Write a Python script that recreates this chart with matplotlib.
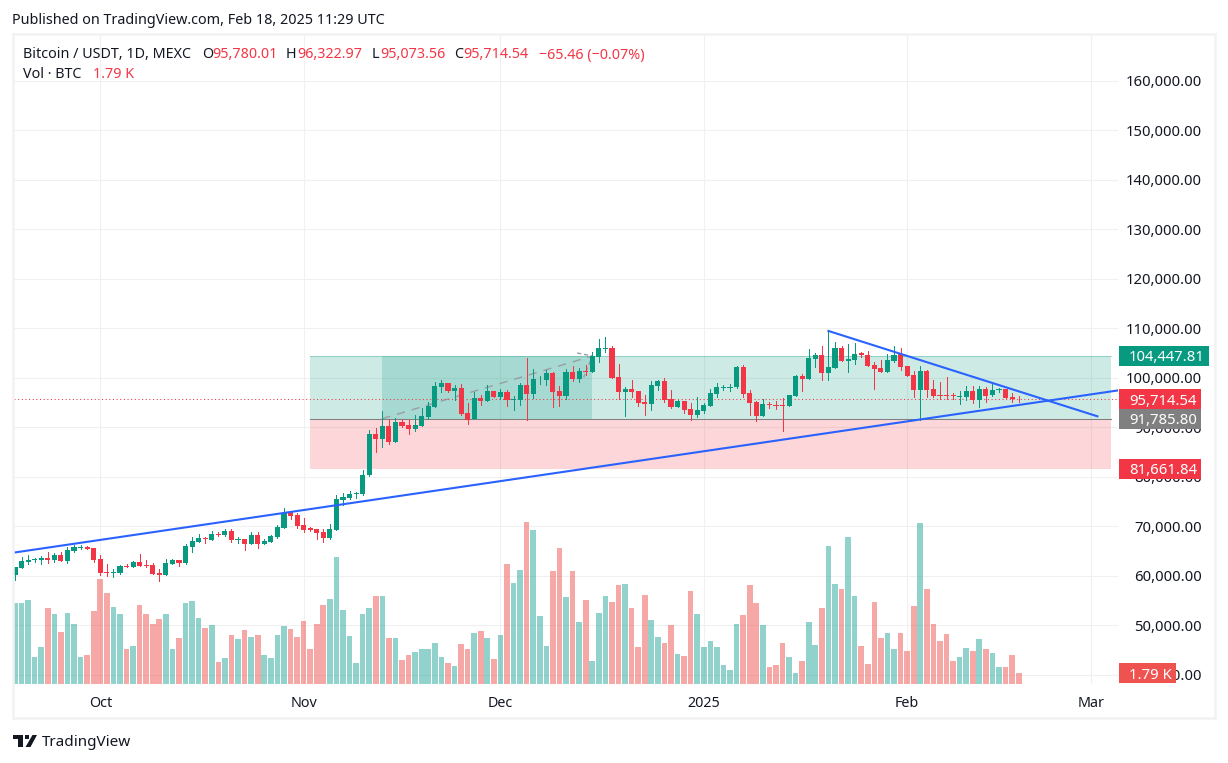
import matplotlib
matplotlib.use("Agg")
import matplotlib.pyplot as plt
from matplotlib.patches import Polygon, Rectangle
from matplotlib.transforms import blended_transform_factory

W, H = 1228, 763
GREEN = "#089981"
RED = "#F23645"
VOL_GREEN = "#26a69a"
VOL_RED = "#ef5350"
BLUE = "#2962ff"
GRID = "#f0f0f0"
TEXT = "#131722"
plt.rcParams["font.family"] = ["Noto Sans", "DejaVu Sans"]

# daily candles from 18 Sep 2024 to 18 Feb 2025, prices in thousands of USDT
opens = [60.2, 61.6, 62.9, 63.2, 63.2, 63.6, 63.2, 64.2, 63.0, 65.1,
         65.7, 65.9, 65.6, 63.4, 60.8, 60.6, 60.6, 62.1, 61.8, 62.8,
         62.2, 62.2, 60.6, 60.2, 62.4, 63.2, 62.6, 65.9, 66.9, 67.7,
         67.3, 68.5, 68.3, 69.1, 67.3, 67.5, 66.5, 68.3, 66.5, 66.9,
         67.9, 69.7, 72.9, 72.3, 70.3, 69.6, 69.5, 68.9, 67.7, 69.3,
         75.4, 75.8, 76.6, 76.6, 80.4, 88.7, 87.7, 90.3, 87.1, 91.1,
         90.5, 89.7, 90.4, 92.1, 94.2, 98.2, 99.0, 97.4, 98.0, 92.9,
         91.7, 96.0, 95.4, 97.4, 96.2, 97.2, 95.6, 95.6, 98.6, 96.8,
         99.7, 99.6, 101.0, 97.4, 96.4, 101.2, 99.8, 101.4, 101.2, 104.3,
         105.9, 106.1, 100.2, 97.2, 97.8, 97.4, 95.1, 94.7, 98.4, 99.4,
         95.8, 94.1, 95.4, 93.7, 92.5, 93.4, 94.4, 96.8, 98.0, 98.0,
         98.2, 102.2, 97.0, 95.1, 92.3, 94.7, 94.5, 94.5, 94.3, 96.4,
         100.4, 99.8, 103.9, 104.6, 101.0, 102.0, 106.1, 103.5, 103.6, 105.0,
         104.6, 102.6, 102.0, 101.2, 103.4, 104.8, 102.4, 100.6, 97.6, 101.4,
         97.8, 96.6, 96.6, 96.6, 96.2, 96.2, 97.4, 95.6, 97.8, 96.6,
         97.5, 97.7, 96.2, 95.78]
highs = [61.8, 63.8, 64.2, 63.7, 64.0, 64.8, 64.6, 64.8, 65.9, 66.3,
         66.3, 66.1, 65.6, 64.2, 62.4, 61.4, 62.2, 62.4, 63.0, 64.4,
         63.2, 62.6, 61.4, 63.4, 63.4, 63.2, 66.5, 67.9, 68.5, 67.9,
         69.1, 68.9, 69.5, 69.5, 67.9, 67.5, 68.9, 68.9, 67.5, 68.3,
         70.3, 73.7, 72.9, 72.7, 71.7, 69.9, 69.5, 69.5, 70.5, 76.4,
         76.8, 77.2, 77.0, 81.4, 89.5, 89.9, 93.3, 91.7, 91.9, 91.7,
         91.5, 92.5, 93.9, 95.2, 99.2, 99.6, 99.0, 98.6, 98.8, 94.9,
         97.2, 96.6, 98.6, 97.4, 97.8, 97.6, 96.4, 99.0, 104.0, 101.8,
         100.4, 101.6, 101.2, 98.4, 101.8, 102.4, 102.0, 102.6, 105.3, 107.9,
         108.3, 106.5, 102.8, 98.2, 99.6, 97.4, 96.6, 99.4, 99.6, 100.0,
         97.6, 95.6, 95.4, 94.9, 96.2, 94.9, 97.8, 99.0, 98.6, 98.8,
         102.4, 102.6, 97.6, 95.4, 95.8, 95.2, 95.4, 96.0, 96.6, 100.6,
         100.8, 105.9, 105.1, 106.5, 109.5, 107.3, 106.5, 106.9, 107.1, 105.2,
         105.5, 103.2, 103.6, 104.8, 106.5, 106.1, 102.4, 101.4, 102.4, 101.6,
         99.6, 99.2, 100.2, 97.0, 97.4, 98.4, 98.4, 98.4, 98.2, 99.0,
         98.0, 97.8, 97.0, 96.32]
lows = [59.2, 61.6, 62.4, 62.8, 62.4, 62.6, 62.8, 63.0, 62.6, 64.8,
        65.5, 65.4, 62.8, 60.2, 60.0, 59.8, 60.4, 61.8, 61.8, 62.0,
        61.8, 60.4, 59.0, 60.2, 62.4, 62.0, 62.4, 64.8, 66.9, 66.7,
        67.3, 68.1, 68.1, 66.9, 66.7, 65.3, 66.5, 65.6, 66.5, 66.9,
        67.7, 69.7, 71.5, 69.7, 68.9, 69.1, 67.5, 66.9, 67.5, 69.3,
        74.3, 75.5, 75.8, 76.4, 80.2, 85.0, 86.1, 86.7, 87.1, 90.1,
        88.7, 89.3, 90.3, 91.7, 94.1, 97.2, 97.2, 95.6, 92.5, 90.7,
        91.7, 94.5, 95.4, 96.2, 95.8, 94.3, 93.5, 94.5, 91.6, 96.0,
        98.8, 98.6, 94.1, 94.3, 95.8, 99.4, 99.2, 100.6, 101.2, 103.2,
        105.3, 100.0, 95.8, 92.3, 96.2, 94.3, 92.5, 93.5, 97.6, 95.1,
        93.9, 94.1, 92.9, 91.5, 92.1, 92.9, 94.3, 96.2, 97.6, 97.4,
        98.0, 96.2, 92.5, 91.3, 92.3, 93.9, 93.7, 89.3, 94.3, 96.4,
        97.4, 99.8, 102.2, 99.6, 99.6, 102.0, 103.4, 101.2, 102.8, 104.2,
        102.4, 97.8, 101.2, 101.2, 103.2, 101.6, 100.4, 96.2, 91.5, 96.2,
        96.2, 95.8, 95.8, 95.8, 94.7, 95.6, 94.9, 94.1, 95.1, 96.4,
        97.2, 96.0, 95.1, 95.07]
closes = [61.8, 63.0, 63.2, 63.4, 63.6, 63.2, 64.2, 63.0, 65.3, 65.9,
          65.9, 65.5, 63.2, 60.6, 60.6, 60.8, 62.0, 61.9, 62.8, 62.0,
          62.0, 60.4, 60.2, 62.6, 63.2, 62.6, 66.1, 67.1, 67.7, 67.5,
          68.5, 68.3, 69.1, 67.3, 67.5, 66.5, 68.3, 66.5, 67.1, 68.1,
          69.9, 72.7, 72.1, 70.1, 69.3, 69.3, 68.7, 67.7, 69.5, 75.5,
          76.0, 76.6, 76.8, 80.4, 88.7, 87.7, 90.3, 87.1, 91.1, 90.3,
          89.7, 90.5, 92.3, 94.3, 98.4, 99.0, 97.4, 98.0, 92.7, 91.6,
          96.0, 95.4, 97.4, 96.2, 97.2, 95.6, 95.7, 98.6, 96.8, 99.8,
          99.8, 101.0, 97.2, 96.4, 101.2, 99.8, 101.4, 101.2, 104.4, 106.1,
          106.1, 100.0, 97.2, 97.8, 97.2, 94.9, 94.7, 98.6, 99.4, 95.6,
          94.1, 95.4, 93.5, 92.5, 93.5, 94.5, 97.0, 98.2, 98.2, 98.2,
          102.2, 96.8, 94.9, 92.3, 94.7, 94.5, 94.4, 94.3, 96.6, 100.4,
          99.8, 104.0, 104.6, 101.0, 102.2, 106.1, 103.4, 103.8, 104.8, 104.7,
          102.4, 101.8, 101.2, 103.6, 104.6, 102.2, 100.4, 97.6, 101.4, 97.6,
          96.4, 96.4, 96.4, 96.4, 96.4, 97.4, 95.6, 97.8, 96.4, 97.6,
          97.7, 96.0, 95.8, 95.71]
# volume in thousands of BTC
volumes = [13.2, 13.2, 13.7, 4.5, 6.0, 12.4, 11.4, 8.5, 11.7, 9.9,
           4.5, 4.7, 11.9, 17.2, 14.9, 12.7, 11.4, 5.8, 6.2, 12.9,
           11.4, 9.8, 10.6, 11.4, 5.7, 7.5, 13.2, 13.6, 10.9, 9.1,
           9.6, 3.6, 4.2, 8.1, 7.3, 8.8, 7.7, 8.1, 4.7, 4.2,
           8.1, 9.5, 9.0, 7.7, 10.3, 5.7, 9.8, 12.9, 13.9, 20.9,
           12.1, 7.8, 3.4, 11.4, 12.4, 14.4, 14.4, 7.5, 7.5, 3.9,
           4.8, 5.2, 5.7, 5.7, 6.7, 4.4, 3.4, 3.0, 6.6, 5.7,
           8.4, 8.7, 7.5, 4.1, 8.0, 19.7, 16.6, 18.7, 26.6, 25.2,
           11.1, 6.2, 18.5, 22.3, 14.3, 18.5, 10.2, 13.8, 3.8, 11.6,
           14.4, 13.4, 16.2, 16.4, 12.5, 6.1, 14.6, 10.5, 7.7, 6.7,
           9.7, 4.9, 4.6, 15.2, 11.5, 6.1, 7.0, 6.1, 3.1, 2.3,
           9.8, 11.3, 16.2, 13.3, 9.7, 2.8, 3.1, 6.7, 4.4, 1.8,
           3.8, 10.2, 6.4, 12.5, 22.6, 16.4, 15.6, 24.1, 14.4, 6.2,
           3.3, 13.4, 7.5, 8.4, 5.7, 8.4, 5.4, 12.8, 26.4, 15.6,
           9.8, 7.0, 8.2, 3.8, 4.4, 5.9, 5.4, 7.4, 5.7, 5.1,
           2.8, 2.8, 4.8, 1.79]

month_pos = [13, 44, 74, 105, 136, 164]
month_labels = ["Oct", "Nov", "Dec", "2025", "Feb", "Mar"]
price_ticks = [40, 50, 60, 70, 80, 90, 100, 110, 120, 130, 140, 150, 160]

# long position tool: entry, target and stop in thousands
entry_price = 91.7858
target_price = 104.44781
stop_price = 81.66184
zone_start, zone_end = 45, 167
inner_start, inner_end = 56, 88
last_close = 95.71454

# trend lines as (bar, price) ends
rising_bars, rising_prices = [-0.3, 168.2], [64.7, 97.5]
falling_bars, falling_prices = [124, 165], [109.5, 92.26]


def fx(x):
    return x / W


def fy(y):
    return 1 - y / H


fig = plt.figure(figsize=(W / 100, H / 100), dpi=100, facecolor="white")

# chart pane in pixels: x 14..1118, y 34..684
rect = [fx(14), fy(684), (1118 - 14) / W, (684 - 34) / H]
ax = fig.add_axes(rect)
ax.set_xlim(-0.15, 168.14)
ax.set_ylim(38.18, 169.49)
ax.set_axisbelow(True)
for s in ax.spines.values():
    s.set_visible(False)
ax.grid(True, color=GRID, lw=0.75)
ax.set_xticks(month_pos)
ax.set_xticklabels(month_labels, fontsize=10.3, color=TEXT)
ax.get_xticklabels()[3].set_fontweight("bold")
ax.tick_params(axis="x", length=0, pad=8.5)
ax.yaxis.tick_right()
ax.set_yticks(price_ticks)
ax.set_yticklabels([f"{t * 1000:,.2f}" for t in price_ticks], fontsize=10.7, color=TEXT)
ax.tick_params(axis="y", length=0, pad=60.5)
for lab in ax.get_yticklabels():
    lab.set_ha("right")

# position zones
ax.add_patch(Rectangle((zone_start, entry_price), zone_end - zone_start, target_price - entry_price,
                       fc=GREEN, alpha=0.2, ec="none", zorder=1))
ax.add_patch(Rectangle((zone_start, stop_price), zone_end - zone_start, entry_price - stop_price,
                       fc=RED, alpha=0.2, ec="none", zorder=1))
ax.add_patch(Rectangle((inner_start, entry_price), inner_end - inner_start, target_price - entry_price,
                       fc=GREEN, alpha=0.2, ec="none", zorder=1))
ax.plot([zone_start, zone_end], [entry_price, entry_price], color="#808080", lw=0.75, zorder=2)
ax.plot([zone_start, zone_end], [target_price, target_price], color=GREEN, alpha=0.3, lw=0.75, zorder=2)
ax.plot([inner_start, inner_end], [entry_price, target_price], color="#9a9da3", lw=1,
        ls=(0, (6, 5)), zorder=2)
ax.plot([inner_end - 2.3, inner_end, inner_end - 1.3], [target_price + 0.6, target_price, target_price - 4.3],
        color="#9a9da3", lw=1, ls=(0, (3, 2)), zorder=2)
ax.axhline(last_close, color=RED, lw=0.75, ls=(0, (1, 2.5)), zorder=2)

# candles
for i in range(len(closes)):
    col = GREEN if closes[i] >= opens[i] else RED
    ax.plot([i, i], [lows[i], highs[i]], color=col, lw=0.72, solid_capstyle="butt", antialiased=False, zorder=3)
    ax.bar(i, abs(closes[i] - opens[i]), bottom=min(opens[i], closes[i]), width=0.78, color=col, zorder=3)

ax.plot(rising_bars, rising_prices, color=BLUE, lw=1.5, zorder=5)
ax.plot(falling_bars, falling_prices, color=BLUE, lw=1.5, zorder=5)

# volume on its own scale, about 6.1 px per thousand BTC
ax_vol = fig.add_axes(rect, facecolor="none")
ax_vol.set_xlim(ax.get_xlim())
ax_vol.set_ylim(0, 650 / 6.1)
ax_vol.axis("off")
vol_colors = [VOL_GREEN if c >= o else VOL_RED for o, c in zip(opens, closes)]
ax_vol.bar(range(len(volumes)), volumes, width=0.86, color=vol_colors, alpha=0.5)


def price_tag(axis, value, label, color, right=1201, height=20 / 4.95):
    tr = blended_transform_factory(fig.transFigure, axis.transData)
    axis.add_patch(Rectangle((fx(1119), value - height / 2), (right - 1119) / W, height, transform=tr,
                             fc=color, ec="none", clip_on=False, zorder=6))
    axis.text(fx((1119 + right) / 2 + 3), value, label, transform=tr, color="white", fontsize=10.7,
              ha="center", va="center_baseline", clip_on=False, zorder=7)


price_tag(ax, target_price, "104,447.81", GREEN, right=1209)
price_tag(ax, last_close, "95,714.54", RED)
price_tag(ax, entry_price, "91,785.80", "#808080")
price_tag(ax, stop_price, "81,661.84", RED)
price_tag(ax_vol, volumes[-1], "1.79 K", VOL_RED, right=1176, height=20.5 / 6.1)

# outer frame
for xs, ys in [((13, 13), (34, 718)), ((13, 1215), (34, 34)), ((13, 1215), (718, 718)), ((1215, 1215), (34, 718))]:
    fig.add_artist(plt.Line2D([fx(xs[0]), fx(xs[1])], [fy(ys[0]), fy(ys[1])], color="#f2f2f2", lw=1.8))

# header and legend text
fig.text(fx(12), fy(20.5), "Published on TradingView.com, Feb 18, 2025 11:29 UTC", fontsize=10.35, color=TEXT, va="center")
legend = [(23, "Bitcoin / USDT, 1D, MEXC", TEXT), (202, "O", TEXT), (212, "95,780.01", RED),
          (286, "H", TEXT), (297, "96,322.97", RED), (372, "L", TEXT), (380, "95,073.56", RED),
          (454, "C", TEXT), (463, "95,714.54", RED), (539, "\u221265.46 (\u22120.07%)", RED)]
for x, s, c in legend:
    fig.text(fx(x), fy(55), s, fontsize=10.3, color=c, va="center")
fig.text(fx(23), fy(75), "Vol \u00b7 BTC", fontsize=10.3, color=TEXT, va="center")
fig.text(fx(93), fy(75), "1.79 K", fontsize=10.3, color=RED, va="center")

# logo
logo = "#131722"
t_bar = [(13, 735), (22.5, 735), (22.5, 747), (18, 747), (18, 739), (13, 739)]
slash = [(32.5, 735), (37, 735), (30.5, 747), (25.5, 747)]
for pts in (t_bar, slash):
    fig.add_artist(Polygon([(fx(x), fy(y)) for x, y in pts], closed=True, fc=logo, ec="none",
                           transform=fig.transFigure))
fig.add_artist(Rectangle((fx(25.3), fy(739)), 4 / W, 4 / H, fc=logo, ec="none", transform=fig.transFigure))
fig.text(fx(42), fy(742), "TradingView", fontsize=11, color=TEXT, va="center")

fig.savefig("out.png", dpi=100, facecolor="white")
